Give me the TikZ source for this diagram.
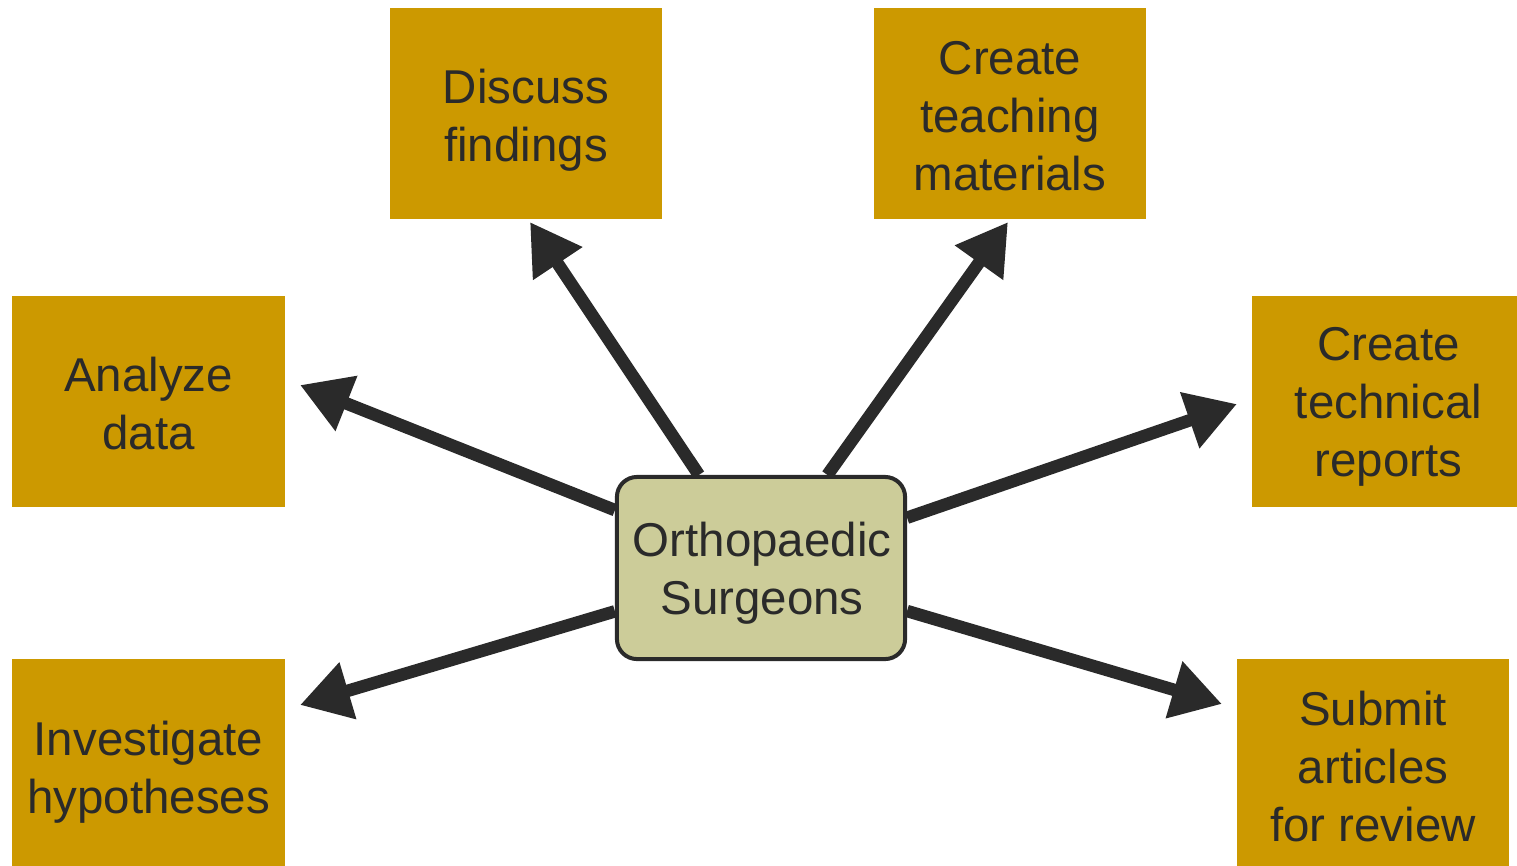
\documentclass[tikz,border=0pt]{standalone}
\usepackage{fontspec}
\setmainfont{Liberation Sans}
\usetikzlibrary{arrows.meta,calc}
\definecolor{boxgold}{HTML}{CC9900}
\definecolor{boxkhaki}{HTML}{CCCC99}
\definecolor{ink}{HTML}{2A2A2A}
\begin{document}
\begin{tikzpicture}[x=0.01cm,y=-0.01cm,
  goldbox/.style={fill=boxgold, draw=none, inner sep=0pt},
  boxtext/.style={inner sep=0pt, align=center, text=ink,
    font=\fontsize{13.5}{16.5}\selectfont},
  hubbox/.style={fill=boxkhaki, draw=ink, line width=0.4mm, rounded corners=0.2cm,
    inner sep=0pt, minimum width=2.88cm, minimum height=1.82cm},
  bigarrow/.style={draw=ink, line width=0.125cm,
    -{Triangle[length=0.5cm,width=0.56cm]}}]
\useasboundingbox (0,0) rectangle (1517,866);
\node[goldbox, minimum width=2.72cm, minimum height=2.11cm] (discuss) at (526,113.5) {};
\node[boxtext] (discussT) at ($(discuss)+(0,7)$) {Discuss\\findings};
\node[goldbox, minimum width=2.72cm, minimum height=2.11cm] (teach) at (1010,113.5) {};
\node[boxtext] (teachT) at ($(teach)+(0,2.5)$) {Create\\teaching\\materials};
\node[goldbox, minimum width=2.73cm, minimum height=2.11cm] (analyze) at (148.5,401.5) {};
\node[boxtext] (analyzeT) at ($(analyze)+(0,2)$) {Analyze\\data};
\node[goldbox, minimum width=2.65cm, minimum height=2.11cm] (tech) at (1384.5,401.5) {};
\node[boxtext] (techT) at ($(tech)+(4,5.5)$) {Create\\technical\\reports};
\node[goldbox, minimum width=2.73cm, minimum height=2.07cm] (invest) at (148.5,762.5) {};
\node[boxtext] (investT) at ($(invest)+(0,10)$) {Investigate\\hypotheses};
\node[goldbox, minimum width=2.72cm, minimum height=2.07cm] (submit) at (1373,762.5) {};
\node[boxtext] (submitT) at ($(submit)+(0,4)$) {Submit\\articles\\for review};
\node[hubbox] (c) at (761,568) {};
\node[boxtext] (cT) at ($(c)+(1,5)$) {Orthopaedic\\Surgeons};
\coordinate (t1) at (530,222);
\coordinate (t2) at (1008,222);
\coordinate (t3) at (300,385);
\coordinate (t4) at (1237,404);
\coordinate (t5) at (300,705);
\coordinate (t6) at (1222,704);
\draw[bigarrow] (c) -- (t1);
\draw[bigarrow] (c) -- (t2);
\draw[bigarrow] (c) -- (t3);
\draw[bigarrow] (c) -- (t4);
\draw[bigarrow] (c) -- (t5);
\draw[bigarrow] (c) -- (t6);
\end{tikzpicture}
\end{document}
